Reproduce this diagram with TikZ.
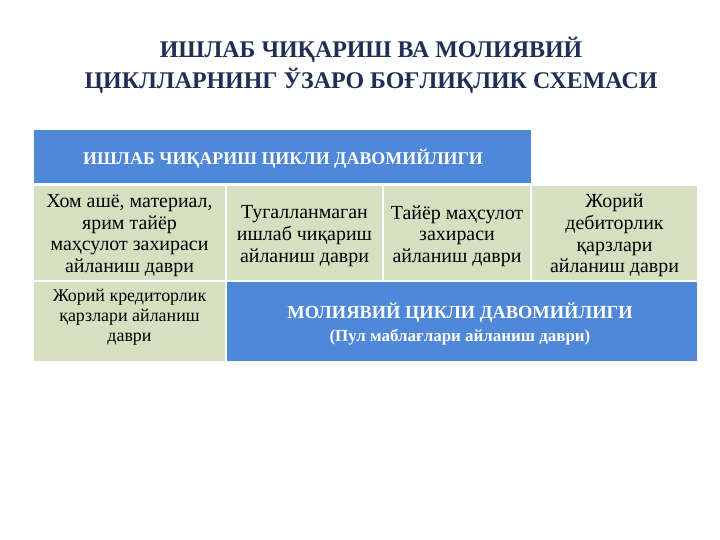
\documentclass[tikz,border=0pt]{standalone}
\usepackage{fontspec}
\setmainfont{Liberation Serif}
\definecolor{navy}{HTML}{1F2F55}
\definecolor{cellblue}{HTML}{4F88D8}
\definecolor{cellgreen}{HTML}{D6E0C0}
\begin{document}
\begin{tikzpicture}[x=1bp,y=-1bp,
  cellbox/.style={fill=#1, draw=none},
  celltext/.style={align=center, inner sep=0pt, text=black,
     font=\fontsize{20}{21.7}\selectfont},
  smalltext/.style={align=center, inner sep=0pt, text=black,
     font=\fontsize{18}{20}\selectfont},
  headtext/.style={align=center, inner sep=0pt, text=white,
     font=\bfseries\fontsize{18}{23}\selectfont},
  titletext/.style={align=center, inner sep=0pt, text=navy,
     font=\bfseries\fontsize{24}{31}\selectfont}]
\useasboundingbox[fill=white] (0,0) rectangle (720,540);
% title
\node[titletext] (title) at (371,65) {ИШЛАБ ЧИҚАРИШ ВА МОЛИЯВИЙ\\ЦИКЛЛАРНИНГ ЎЗАРО БОҒЛИҚЛИК СХЕМАСИ};
% header band
\path[cellbox=cellblue] (34,130) rectangle (531,183);
\node[headtext] (head) at (283,159) {ИШЛАБ ЧИҚАРИШ ЦИКЛИ ДАВОМИЙЛИГИ};
% row 2
\path[cellbox=cellgreen] (34,186) rectangle (225,280);
\path[cellbox=cellgreen] (227,186) rectangle (382,280);
\path[cellbox=cellgreen] (384,186) rectangle (530,280);
\path[cellbox=cellgreen] (532,186) rectangle (697,280);
\node[celltext] (c1) at (129.5,235.5) {Хом ашё, материал,\\ярим тайёр\\маҳсулот захираси\\айланиш даври};
\node[celltext] (c2) at (304.5,236) {Тугалланмаган\\ишлаб чиқариш\\айланиш даври};
\node[celltext] (c3) at (457,236) {Тайёр маҳсулот\\захираси\\айланиш даври};
\node[celltext] (c4) at (614.5,235.5) {Жорий\\дебиторлик\\қарзлари\\айланиш даври};
% row 3
\path[cellbox=cellgreen] (34,282) rectangle (225,361);
\path[cellbox=cellblue] (227,282) rectangle (697,361);
\node[smalltext] (d1) at (129.5,317) {Жорий кредиторлик\\қарзлари айланиш\\даври};
\node[headtext] (d2) at (460,324) {{\fontsize{18.5}{23}\selectfont МОЛИЯВИЙ ЦИКЛИ ДАВОМИЙЛИГИ}\\{\fontsize{17}{23}\selectfont(Пул маблағлари айланиш даври)}};
\end{tikzpicture}
\end{document}
